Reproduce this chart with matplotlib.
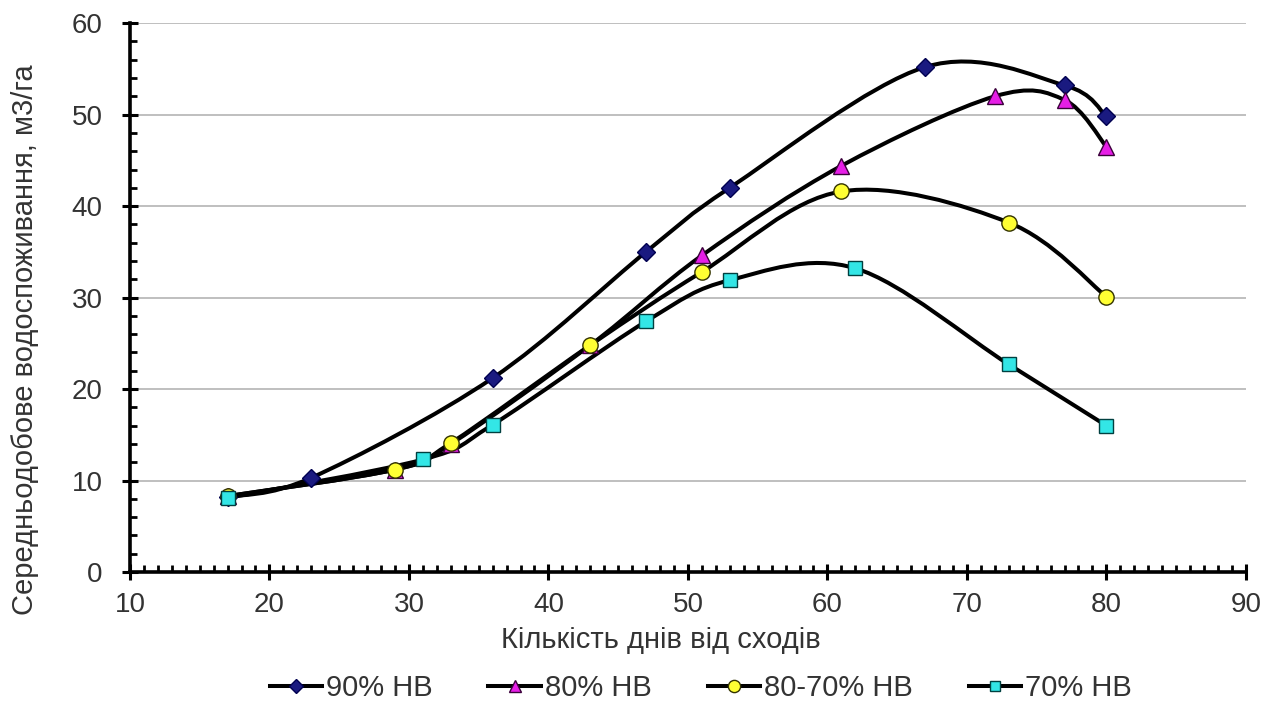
import matplotlib.pyplot as plt
from matplotlib.path import Path
from matplotlib.patches import PathPatch
from matplotlib.lines import Line2D
from matplotlib.ticker import MultipleLocator

plt.rcParams['font.family'] = ['Liberation Sans', 'DejaVu Sans']

# data
days_90 = [17, 23, 36, 47, 53, 67, 77, 80]
vals_90 = [8.2, 10.3, 21.2, 35.0, 42.0, 55.2, 53.2, 49.8]

days_80 = [17, 29, 33, 43, 51, 61, 72, 77, 80]
vals_80 = [8.3, 11.2, 14.0, 24.8, 34.6, 44.4, 52.0, 51.6, 46.5]

days_8070 = [17, 29, 33, 43, 51, 61, 73, 80]
vals_8070 = [8.3, 11.2, 14.1, 24.8, 32.8, 41.6, 38.2, 30.1]

days_70 = [17, 31, 36, 47, 53, 62, 73, 80]
vals_70 = [8.1, 12.3, 16.1, 27.4, 31.9, 33.2, 22.7, 16.0]

labels = ['90% НВ', '80% НВ', '80-70% НВ', '70% НВ']
markers = ['D', '^', 'o', 's']
face_colors = ['#1a1a80', '#e61ee6', '#ffff33', '#33e6e6']
edge_colors = ['#000050', '#3a003a', '#333300', '#004040']
marker_sizes = [9, 11, 11, 9.5]


def smooth_path(xs, ys):
    # Excel-like smoothed line: cubic Bezier segments (Catmull-Rom control points)
    pts = list(zip(xs, ys))
    n = len(pts)
    verts = [pts[0]]
    codes = [Path.MOVETO]
    for i in range(n - 1):
        p0 = pts[i - 1] if i > 0 else pts[i]
        p1 = pts[i]
        p2 = pts[i + 1]
        p3 = pts[i + 2] if i + 2 < n else pts[i + 1]
        c1 = (p1[0] + (p2[0] - p0[0]) / 6, p1[1] + (p2[1] - p0[1]) / 6)
        c2 = (p2[0] - (p3[0] - p1[0]) / 6, p2[1] - (p3[1] - p1[1]) / 6)
        verts += [c1, c2, p2]
        codes += [Path.CURVE4] * 3
    return Path(verts, codes)


fig = plt.figure(figsize=(12.79, 7.01), dpi=100)
ax = fig.add_axes([0.1016, 0.184, 0.8725, 0.783])

series = [(days_90, vals_90), (days_80, vals_80), (days_8070, vals_8070), (days_70, vals_70)]
handles = []
for k, (xs, ys) in enumerate(series):
    ax.add_patch(PathPatch(smooth_path(xs, ys), facecolor='none', edgecolor='black',
                           lw=2.9, zorder=3, capstyle='round'))
    ax.plot(xs, ys, ls='none', marker=markers[k], ms=marker_sizes[k],
            mfc=face_colors[k], mec=edge_colors[k], mew=1.0, zorder=4)
    handles.append(Line2D([], [], color='black', lw=2.9, marker=markers[k],
                          ms=marker_sizes[k] * 0.8, mfc=face_colors[k], mec=edge_colors[k]))

ax.set_xlim(10, 90)
ax.set_ylim(0, 60)
ax.xaxis.set_major_locator(MultipleLocator(10))
ax.xaxis.set_minor_locator(MultipleLocator(1))
ax.yaxis.set_major_locator(MultipleLocator(10))
ax.yaxis.set_minor_locator(MultipleLocator(2))

ax.grid(axis='y', which='major', color='#b4b4b4', lw=1.2, zorder=0)
for s in ['top', 'right']:
    ax.spines[s].set_visible(False)
for s in ['left', 'bottom']:
    ax.spines[s].set_linewidth(2.6)
    ax.spines[s].set_zorder(5)

ax.tick_params(which='major', direction='inout', length=11, width=2.2, labelsize=20,
               labelcolor='#333333')
ax.tick_params(axis='x', which='major', pad=9)
ax.tick_params(axis='y', which='major', pad=14)
ax.tick_params(which='minor', direction='in', length=5, width=2.0)

fig.text(0.517, 0.087, 'Кількість днів від сходів', fontsize=21, color='#333333',
         ha='center', va='center')
fig.text(0.0195, 0.516, 'Середньодобове водоспоживання, м3/га', rotation=90,
         fontsize=21, color='#333333', ha='center', va='center')

leg = fig.legend(handles, labels, loc='center', bbox_to_anchor=(0.548, 0.0186), ncol=4,
                 frameon=False, fontsize=21, handlelength=1.8, handletextpad=0.15,
                 columnspacing=1.9, borderpad=0, borderaxespad=0)
for t in leg.get_texts():
    t.set_color('#333333')

fig.savefig('out.png', dpi=100)
